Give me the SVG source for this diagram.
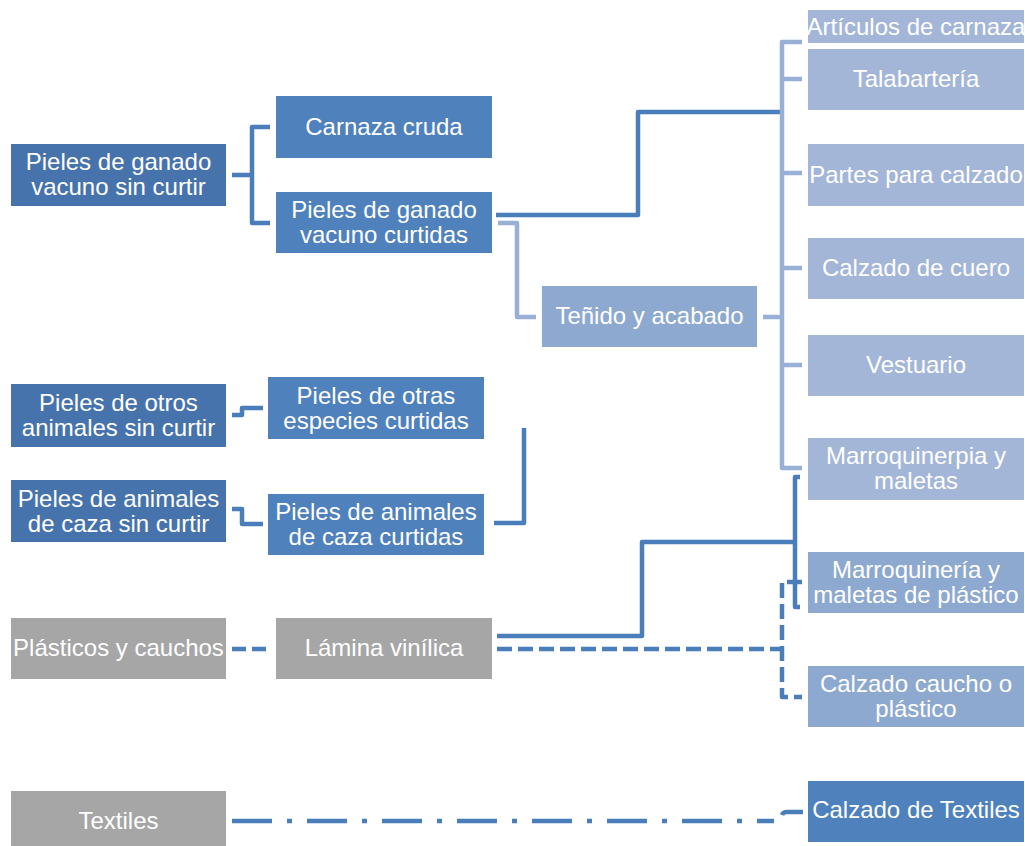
<svg xmlns="http://www.w3.org/2000/svg" width="1025" height="846" viewBox="0 0 1025 846">
<style>
text{font-family:"Liberation Sans",Arial,sans-serif;font-size:24px;fill:#ffffff;text-anchor:middle}
.dk{fill:#4773AD}
.md{fill:#4F81BD}
.lt{fill:#A3B6D7}
.lm{fill:#8EA9CF}
.gr{fill:#A6A6A6}
.c{fill:none;stroke-width:4.5;stroke-linejoin:round}
.cd{stroke:#4A7EBB}
.cl{stroke:#98B0D6}
</style>
<rect width="1025" height="846" fill="#ffffff"/>
<g id="connectors">
<path class="c cd" d="M232 175H252M270 127H252V223H270"/>
<path class="c cd" d="M496 215H638V112H782"/>
<path class="c cl" d="M498 223H517V317H536"/>
<path class="c cl" d="M802 42H782V468H802M782 79H802M782 173H802M782 268H802M782 365H802M763 317H782"/>
<path class="c cd" d="M232 415H242V408H263"/>
<path class="c cd" d="M232 509H242V524H263"/>
<path class="c cd" d="M494 523H524V428"/>
<path class="c cd" d="M497 636H642V542H795M800 477H795V607H800"/>
<path class="c cd" d="M232 649H268" stroke-dasharray="14 6"/>
<path class="c cd" d="M497 649H782" stroke-dasharray="15 6"/>
<path class="c cd" d="M802 582H782V697H802" stroke-dasharray="15 6"/>
<path class="c cd" d="M232 821H774" stroke-dasharray="40 15 5 15"/>
<path class="c cd" d="M782 815Q783 812 787 812H803"/>
</g>
<g id="n1"><rect class="dk" x="11" y="144" width="215" height="62"/><text x="118.5" y="170">Pieles de ganado</text><text x="118.5" y="195">vacuno sin curtir</text></g>
<g id="n2"><rect class="md" x="276" y="96" width="216" height="62"/><text x="384" y="135">Carnaza cruda</text></g>
<g id="n3"><rect class="md" x="276" y="192" width="216" height="61"/><text x="384" y="218">Pieles de ganado</text><text x="384" y="243">vacuno curtidas</text></g>
<g id="n4"><rect class="lm" x="542" y="286" width="215" height="61"/><text x="649.5" y="324">Teñido y acabado</text></g>
<g id="n5"><rect class="dk" x="11" y="384" width="215" height="63"/><text x="118.5" y="411">Pieles de otros</text><text x="118.5" y="436">animales sin curtir</text></g>
<g id="n6"><rect class="md" x="268" y="377" width="216" height="62"/><text x="376" y="404">Pieles de otras</text><text x="376" y="429">especies curtidas</text></g>
<g id="n7"><rect class="dk" x="11" y="480" width="215" height="62"/><text x="118.5" y="507">Pieles de animales</text><text x="118.5" y="532">de caza sin curtir</text></g>
<g id="n8"><rect class="md" x="268" y="494" width="216" height="61"/><text x="376" y="520">Pieles de animales</text><text x="376" y="545">de caza curtidas</text></g>
<g id="n9"><rect class="gr" x="11" y="618" width="215" height="61"/><text x="118.5" y="656">Plásticos y cauchos</text></g>
<g id="n10"><rect class="gr" x="276" y="618" width="216" height="61"/><text x="384" y="656">Lámina vinílica</text></g>
<g id="n11"><rect class="gr" x="11" y="791" width="215" height="60"/><text x="118.5" y="829">Textiles</text></g>
<g id="r1"><rect class="lt" x="808" y="10" width="216" height="33"/><text x="916" y="35">Artículos de carnaza</text></g>
<g id="r2"><rect class="lt" x="808" y="49" width="216" height="61"/><text x="916" y="87">Talabartería</text></g>
<g id="r3"><rect class="lt" x="808" y="144" width="216" height="62"/><text x="916" y="183">Partes para calzado</text></g>
<g id="r4"><rect class="lt" x="808" y="238" width="216" height="61"/><text x="916" y="276">Calzado de cuero</text></g>
<g id="r5"><rect class="lt" x="808" y="335" width="216" height="61"/><text x="916" y="373">Vestuario</text></g>
<g id="r6"><rect class="lt" x="808" y="438" width="216" height="62"/><text x="916" y="464">Marroquinerpia y</text><text x="916" y="489">maletas</text></g>
<g id="r7"><rect class="lm" x="808" y="552" width="216" height="61"/><text x="916" y="578">Marroquinería y</text><text x="916" y="603">maletas de plástico</text></g>
<g id="r8"><rect class="lm" x="808" y="666" width="216" height="61"/><text x="916" y="692">Calzado caucho o</text><text x="916" y="717">plástico</text></g>
<g id="r9"><rect class="md" x="808" y="781" width="216" height="61"/><text x="916" y="818">Calzado de Textiles</text></g>
</svg>
